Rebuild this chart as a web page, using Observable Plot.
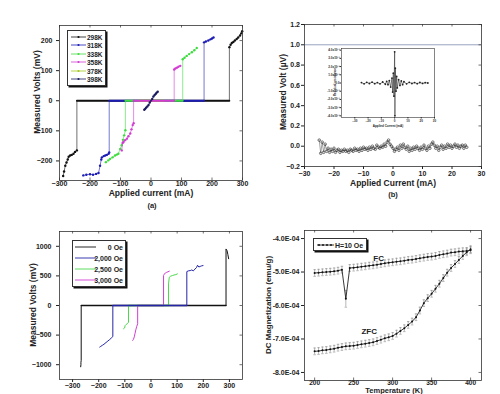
<!DOCTYPE html>
<html><head><meta charset="utf-8">
<script src="https://cdn.jsdelivr.net/npm/d3@7"></script>
<script src="https://cdn.jsdelivr.net/npm/@observablehq/plot@0.6"></script>
<style>
body{margin:0;background:#fff;}
#root{position:relative;width:500px;height:394px;overflow:hidden;font-family:"Liberation Sans",Arial,sans-serif;font-weight:bold;color:#222;}
.p{position:absolute;}
.lab{position:absolute;white-space:nowrap;transform:translate(-50%,-50%);font-weight:bold;color:#222;}
.rot{transform:translate(-50%,-50%) rotate(-90deg);}
.leg{position:absolute;background:#fff;border:0.8px solid #333;box-shadow:1.5px 1.5px 0 #111;}
.row{position:absolute;left:0;right:0;height:8px;}
.row svg{position:absolute;top:0;}
.row span{position:absolute;top:50%;transform:translateY(-50%);white-space:nowrap;}
</style></head><body><div id="root"></div><script>
// ---------- Panel (a): V-I curves at temperatures ----------
const tempsA = ["298K", "318K", "338K", "358K", "378K", "398K"];
const a298 = [[-288,-250],[-285,-235],[-281,-216],[-277,-205],[-273,-195],[-270,-186],[-265,-182],[-260,-180],[-254,-176],[-249,-170],[-243,-165],[-243,0],[257,0],[257,178],[261,186],[265,192],[270,195],[275,200],[281,205],[286,210],[292,217],[296,224],[299,231]];
const a318 = [[-222,-248],[-212,-246],[-200,-244],[-190,-246],[-180,-243],[-172,-240],[-167,-216],[-163,-195],[-161,-188],[-155,-184],[-150,-182],[-145,-180],[-139,-176],[-137,-172],[-137,0],[174,0],[174,194],[180,197],[188,200],[195,204],[200,207],[205,210]];
const a338 = [[-148,-204],[-140,-198],[-134,-193],[-126,-188],[-118,-182],[-112,-179],[-107,-176],[-101,-160],[-96,-148],[-92,-130],[-88,-115],[-84,-98],[-84,0],[104,0],[104,138],[110,143],[117,149],[125,155],[134,161],[142,168],[150,175]];
const a358 = [[-96,-165],[-93,-140],[-90,-137],[-85,-131],[-79,-126],[-74,-118],[-68,-109],[-64,-95],[-60,-81],[-57,-75],[-57,0],[76,0],[76,104],[80,107],[85,110],[90,113],[96,116]];
const a378 = [[-40,0],[40,0]];
const a398 = [[-22,-30],[-19,-27],[-16,-23],[-12,-19],[-8,-14],[-4,-6],[0,0],[4,6],[8,14],[12,19],[16,23],[19,27],[22,30]];
const xTicksA = [-300,-200,-100,0,100,200,300];
const yTicksA = [-200,-100,0,100,200];

// ---------- Panel (b): noise measurement ----------
const bCurrent = [-25,-24.5,-24,-23.5,-23,-22.5,-22,-21.5,-21,-20.5,-20,-19.5,-19,-18.5,-18,-17.5,-17,-16.5,-16,-15.5,-15,-14.5,-14,-13.5,-13,-12.5,-12,-11.5,-11,-10.5,-10,-9.5,-9,-8.5,-8,-7.5,-7,-6.5,-6,-5.5,-5,-4.5,-4,-3.5,-3,-2.5,-2,-1.5,-1,-0.5,0,0.5,1,1.5,2,2.5,3,3.5,4,4.5,5,5.5,6,6.5,7,7.5,8,8.5,9,9.5,10,10.5,11,11.5,12,12.5,13,13.5,14,14.5,15,15.5,16,16.5,17,17.5,18,18.5,19,19.5,20,20.5,21,21.5,22,22.5,23,23.5,24,24.5,25];
const bVolt = [0.06,-0.07,0.04,-0.06,0.02,-0.05,-0.02,-0.06,-0.03,-0.05,-0.02,-0.06,-0.04,-0.03,-0.06,-0.04,-0.05,-0.03,-0.05,-0.04,-0.06,-0.03,-0.04,-0.05,-0.02,-0.04,-0.03,-0.05,-0.02,-0.04,-0.01,-0.03,-0.02,-0.04,-0.01,-0.03,0.00,-0.02,-0.03,0.01,-0.01,-0.02,0.00,-0.01,0.02,0.00,0.04,0.06,0.02,0.00,-0.02,-0.05,-0.03,-0.01,-0.04,0.01,-0.02,0.02,-0.01,-0.03,0.00,-0.05,-0.02,-0.04,-0.01,-0.03,0.00,-0.02,-0.04,-0.01,-0.03,0.01,-0.02,-0.04,0.00,-0.02,0.02,0.04,0.01,-0.02,0.00,-0.04,-0.01,0.01,-0.03,0.00,-0.02,0.02,-0.01,0.01,-0.02,0.00,0.02,-0.01,0.01,-0.02,0.00,0.01,-0.02,0.01,-0.01];
const bRefLine = [1.0];
const xTicksB = [-30,-20,-10,0,10,20,30];
const yTicksB = [-0.2,0,0.2,0.4,0.6,0.8,1.0,1.2];
// inset (units of 10^-3)
const insetCurrent = [-25,-23,-21,-19,-17,-15,-13,-11,-9,-7,-6,-5,-4,-3,-2,-1.5,-1,-0.5,0,0.2,0.5,1,1.5,2,3,4,5,6,7,9,11,13,15,17,19,21,23,25];
const insetValue = [0.05,-0.1,0.08,-0.06,0.1,-0.08,0.05,-0.1,0.12,-0.15,0.2,-0.2,0.3,-0.5,0.6,-1.1,1.2,-1.6,3.8,-4.0,1.8,-1.0,0.8,-0.6,0.4,-0.3,0.25,-0.2,0.15,-0.1,0.08,-0.06,0.05,-0.08,0.06,-0.05,0.04,0.0];
const insetXTicks = [-30,-20,-10,0,10,20,30];
const insetYTicks = [-4,-3,-2,-1,0,1,2,3,4];

// ---------- Panel (c): V-I curves in field ----------
const fieldsC = ["0 Oe", "2,000 Oe", "2,500 Oe", "3,000 Oe"];
const c0 = [[-269,-1035],[-268,-1000],[-268,-960],[-267,-930],[-267,0],[287,0],[287,955],[289,940],[291,925],[294,860],[297,790]];
const c2000 = [[-196,-702],[-192,-690],[-186,-672],[-180,-655],[-172,-625],[-165,-600],[-158,-575],[-152,-550],[-146,-525],[-146,0],[137,0],[137,573],[143,585],[150,590],[156,600],[162,585],[168,615],[174,640],[178,680],[183,650],[188,660],[194,670],[199,675]];
const c2500 = [[-105,-393],[-101,-380],[-99,-340],[-95,-320],[-90,-305],[-86,-281],[-86,0],[67,0],[67,365],[70,477],[75,495],[82,506],[88,515],[95,522],[101,534]];
const c3000 = [[-70,-590],[-67,-570],[-64,-530],[-61,-470],[-58,-410],[-55,-360],[-51,-309],[-51,0],[48,0],[48,506],[51,530],[55,550],[60,560],[65,570],[70,579]];
const xTicksC = [-300,-200,-100,0,100,200,300];
const yTicksC = [-1000,-500,0,500,1000];

// ---------- Panel (d): DC magnetization ----------
const tempD = [200,205,210,215,220,225,230,235,240,245,250,255,260,265,270,275,280,285,290,295,300,305,310,315,320,325,330,335,340,345,350,355,360,365,370,375,380,385,390,395,400];
const fcD = [-5.03,-5.02,-5.01,-5.00,-4.99,-4.98,-4.96,-4.93,-5.80,-4.88,-4.87,-4.86,-4.84,-4.83,-4.81,-4.80,-4.78,-4.76,-4.74,-4.72,-4.71,-4.69,-4.68,-4.66,-4.64,-4.63,-4.61,-4.59,-4.57,-4.55,-4.54,-4.52,-4.49,-4.47,-4.45,-4.42,-4.41,-4.39,-4.38,-4.37,-4.35];
const zfcD = [-7.37,-7.36,-7.34,-7.33,-7.31,-7.29,-7.26,-7.24,-7.22,-7.21,-7.20,-7.18,-7.16,-7.14,-7.12,-7.10,-7.06,-7.02,-6.98,-6.95,-6.91,-6.84,-6.76,-6.68,-6.58,-6.48,-6.35,-6.15,-5.93,-5.78,-5.65,-5.50,-5.35,-5.18,-5.02,-4.88,-4.76,-4.64,-4.52,-4.41,-4.32];
const fcErr = [0.1,0.1,0.1,0.1,0.1,0.1,0.1,0.1,0.25,0.1,0.1,0.1,0.1,0.1,0.1,0.1,0.1,0.1,0.1,0.1,0.1,0.1,0.1,0.1,0.1,0.1,0.1,0.1,0.1,0.1,0.1,0.1,0.1,0.1,0.1,0.1,0.1,0.1,0.1,0.1,0.1];
const zfcErr = 0.1;
const dScale = 1e-4;
const xTicksD = [200,250,300,350,400];
const yTicksD = [-8e-4,-7e-4,-6e-4,-5e-4,-4e-4];

// ================= drawing =================
const root = document.getElementById("root");
const FONT = '"Liberation Sans", Arial, sans-serif';
const baseStyle = {fontFamily: FONT, fontSize: "7px", fontWeight: "bold", background: "transparent", color: "#222", overflow: "visible"};
function place(node, left, top) {
  const d = document.createElement("div");
  d.className = "p"; d.style.left = left + "px"; d.style.top = top + "px";
  d.appendChild(node); root.appendChild(d);
}
function label(text, x, y, size, rot) {
  const d = document.createElement("div");
  d.className = "lab" + (rot ? " rot" : "");
  d.style.left = x + "px"; d.style.top = y + "px"; d.style.fontSize = size + "px";
  d.textContent = text; root.appendChild(d);
}
function toRows(names, arrays) {
  const rows = [];
  names.forEach((n, i) => arrays[i].forEach(([x, y]) => rows.push({s: n, x, y})));
  return rows;
}
// o: {fw, fh, xs, xp, ys, yp, yfmt, xfs}
function axes(xt, yt, o) {
  const m = [
    Plot.axisX({ticks: xt, tickSize: o.xs, tickPadding: o.xp, label: null, tickFormat: o.xfmt, fontSize: o.xfs}),
    Plot.axisY({ticks: yt, tickSize: o.ys, tickPadding: o.yp, label: null, tickFormat: o.yfmt}),
    // inward ticks on top and right edges
    Plot.ruleX(xt, {x: d => d, insetBottom: o.fh - 2.5, stroke: "#333", strokeWidth: 0.7}),
    Plot.ruleY(yt, {y: d => d, insetLeft: o.fw - 2.5, stroke: "#333", strokeWidth: 0.7}),
    Plot.frame({stroke: "#333", strokeWidth: 0.8})
  ];
  if (o.xs === 0) m.push(Plot.ruleX(xt, {x: d => d, insetTop: o.fh - 2.5, stroke: "#333", strokeWidth: 0.7}));
  return m;
}
function seriesMarks(rows, order, colors) {
  const m = [];
  for (const n of order) {
    const r = rows.filter(d => d.s === n);
    m.push(Plot.line(r, {x: "x", y: "y", stroke: colors[n], strokeWidth: 0.6}));
    m.push(Plot.line(r.filter(d => d.y === 0), {x: "x", y: "y", stroke: colors[n], strokeWidth: 1.8}));
    m.push(Plot.dot(r.filter(d => d.y !== 0), {x: "x", y: "y", r: 1.2, fill: colors[n], stroke: "none"}));
  }
  return m;
}

// ---- (a)
const colA = {"298K": "#111111", "318K": "#1c1cb4", "338K": "#3fdc3f", "358K": "#d23cd2", "378K": "#a4c81e", "398K": "#1a1a60"};
const rowsA = toRows(tempsA, [a298, a318, a338, a358, a378, a398]);
place(Plot.plot({
  width: 250, height: 200, marginLeft: 59, marginRight: 8, marginTop: 25, marginBottom: 20,
  style: baseStyle,
  x: {domain: [-300, 300]}, y: {domain: [-265, 250]},
  marks: [
    ...seriesMarks(rowsA, ["298K", "318K", "338K", "378K", "358K", "398K"], colA),
    ...axes(xTicksA, yTicksA, {fw: 183, fh: 155, xs: 0, xp: 1, ys: 3, yp: 4})
  ]
}), 0, 0);

// ---- (b)
const rowsB = bCurrent.map((x, i) => ({x, y: bVolt[i]}));
place(Plot.plot({
  width: 250, height: 200, marginLeft: 54, marginRight: 19, marginTop: 24, marginBottom: 34,
  style: baseStyle,
  x: {domain: [-30, 30]}, y: {domain: [-0.2, 1.2]},
  marks: [
    Plot.ruleY(bRefLine, {stroke: "#7d8bb0", strokeWidth: 0.8}),
    Plot.line(rowsB, {x: "x", y: "y", stroke: "#444", strokeWidth: 0.5}),
    Plot.dot(rowsB, {x: "x", y: "y", r: 1.3, stroke: "#222", strokeWidth: 0.6, fill: "none"}),
    ...axes(xTicksB, yTicksB, {fw: 177, fh: 142, xs: 3, xp: 1.5, ys: 3, yp: 1.5, yfmt: d3.format(".1f")})
  ]
}), 250, 0);

const rowsI = insetCurrent.map((x, i) => ({x, y: insetValue[i]}));
place(Plot.plot({
  width: 115, height: 85, marginLeft: 16, marginRight: 6, marginTop: 4, marginBottom: 12,
  style: {...baseStyle, fontSize: "3px"},
  x: {domain: [-40, 30]}, y: {domain: [-4.2, 4.2]},
  marks: [
    Plot.line(rowsI, {x: "x", y: "y", stroke: "#333", strokeWidth: 0.6}),
    Plot.dot(rowsI, {x: "x", y: "y", r: 0.9, fill: "#222"}),
    Plot.axisX({ticks: insetXTicks, tickSize: 1.5, tickPadding: 0.5, label: null}),
    Plot.axisY({ticks: insetYTicks, tickSize: 1.5, tickPadding: 0.5, label: null,
      tickFormat: d => d === 0 ? "0.0" : (d.toFixed(1) + "x10\u207B\u00B3")}),
    Plot.frame({stroke: "#333", strokeWidth: 0.6})
  ]
}), 325, 44);

// ---- (c)
const colC = {"0 Oe": "#111111", "2,000 Oe": "#2525a8", "2,500 Oe": "#4ad84a", "3,000 Oe": "#d23cd2"};
const rowsC = toRows(fieldsC, [c0, c2000, c2500, c3000]);
const cMarks = [];
for (const n of ["0 Oe", "3,000 Oe", "2,500 Oe", "2,000 Oe"]) {
  const r = rowsC.filter(d => d.s === n);
  cMarks.push(Plot.line(r, {x: "x", y: "y", stroke: colC[n], strokeWidth: 1}));
  cMarks.push(Plot.line(r.filter(d => d.y === 0), {x: "x", y: "y", stroke: colC[n], strokeWidth: 1.4}));
}
place(Plot.plot({
  width: 250, height: 194, marginLeft: 59, marginRight: 8, marginTop: 31, marginBottom: 15,
  style: baseStyle,
  x: {domain: [-350, 350]}, y: {domain: [-1250, 1250]},
  marks: [...cMarks, ...axes(xTicksC, yTicksC, {fw: 183, fh: 148, xs: 3, xp: 1, ys: 3, yp: 5, yfmt: d3.format("d")})]
}), 0, 200);

// ---- (d)
const rowsD = [];
tempD.forEach((t, i) => {
  rowsD.push({s: "FC", t, m: fcD[i] * dScale, e: fcErr[i] * dScale});
  rowsD.push({s: "ZFC", t, m: zfcD[i] * dScale, e: zfcErr * dScale});
});
const expFmt = v => { const [m, e] = v.toExponential(1).split("e"); const n = +e; return m + "E" + (n < 0 ? "-" : "+") + String(Math.abs(n)).padStart(2, "0"); };
place(Plot.plot({
  width: 250, height: 194, marginLeft: 54, marginRight: 19, marginTop: 30, marginBottom: 14,
  style: baseStyle,
  x: {domain: [187, 414]}, y: {domain: [-8.24e-4, -3.76e-4]},
  marks: [
    Plot.ruleX(rowsD, {x: "t", y1: d => d.m - d.e, y2: d => d.m + d.e, stroke: "#888", strokeWidth: 0.6}),
    Plot.link(rowsD, {x1: d => d.t - 1.6, x2: d => d.t + 1.6, y1: d => d.m + d.e, y2: d => d.m + d.e, stroke: "#888", strokeWidth: 0.6}),
    Plot.link(rowsD, {x1: d => d.t - 1.6, x2: d => d.t + 1.6, y1: d => d.m - d.e, y2: d => d.m - d.e, stroke: "#888", strokeWidth: 0.6}),
    Plot.line(rowsD, {x: "t", y: "m", z: "s", stroke: "#222", strokeWidth: 0.9}),
    Plot.dot(rowsD, {x: "t", y: "m", r: 1, fill: "#111"}),
    Plot.text(["FC"], {x: 282, y: -4.58e-4, text: d => d, fontSize: 8, fontWeight: "bold"}),
    Plot.text(["ZFC"], {x: 270, y: -6.76e-4, text: d => d, fontSize: 8, fontWeight: "bold"}),
    ...axes(xTicksD, yTicksD, {fw: 177, fh: 150, xs: 0, xp: 0, xfs: 6.5, ys: 3, yp: 2, yfmt: expFmt})
  ]
}), 250, 200);

// ---- axis titles
label("Measured Volts (mV)", 37, 92, 8.5, true);
label("Applied current (mA)", 151, 193, 8.5);
label("(a)", 152, 205, 7.5);
label("Measured Volt (\u00B5V)", 283, 92, 8.5, true);
label("Applied Current (mA)", 393, 183, 8.5);
label("(b)", 393, 193.5, 7.5);
label("Measured Volts (mV)", 33, 305, 8.5, true);
label("DC Magnetization (emu/g)", 268, 305, 8, true);
label("Temperature (K)", 394, 390.3, 7.5);
label("Residual resistance", 335, 82, 3, true);
label("Applied Current (mA)", 388, 125.5, 3);

// ---- legends
function legend(left, top, w, h, entries, opt) {
  const box = document.createElement("div");
  box.className = "leg";
  Object.assign(box.style, {left: left + "px", top: top + "px", width: w + "px", height: h + "px", fontSize: opt.font + "px"});
  entries.forEach(([text, color], i) => {
    const row = document.createElement("div");
    row.className = "row";
    row.style.top = (opt.first + i * opt.step - 4) + "px";
    const ns = "http://www.w3.org/2000/svg";
    const s = document.createElementNS(ns, "svg");
    s.setAttribute("width", opt.lineW + 2); s.setAttribute("height", 8);
    s.style.left = opt.lineX + "px";
    const ln = document.createElementNS(ns, "line");
    ln.setAttribute("x1", 1); ln.setAttribute("x2", opt.lineW + 1); ln.setAttribute("y1", 4); ln.setAttribute("y2", 4);
    ln.setAttribute("stroke", color); ln.setAttribute("stroke-width", opt.lw);
    s.appendChild(ln);
    if (opt.marker) {
      for (const mx of opt.marker) {
        const c = document.createElementNS(ns, "circle");
        c.setAttribute("cx", mx); c.setAttribute("cy", 4); c.setAttribute("r", 1.1); c.setAttribute("fill", color);
        s.appendChild(c);
      }
    }
    row.appendChild(s);
    const sp = document.createElement("span");
    sp.textContent = text;
    if (opt.right != null) sp.style.right = opt.right + "px"; else sp.style.left = opt.textX + "px";
    row.appendChild(sp);
    box.appendChild(row);
  });
  root.appendChild(box);
}
legend(67, 30, 37, 54, tempsA.map(t => [t, colA[t]]), {font: 6.5, first: 5.5, step: 8.5, lineX: 2, lineW: 15, lw: 0.8, marker: [8.5], textX: 19});
legend(72, 240, 52, 45, fieldsC.map(f => [f, colC[f]]), {font: 7, first: 6, step: 11, lineX: 1, lineW: 21, lw: 0.9, right: 2});
legend(313, 238, 52, 11, [["H=10 Oe", "#222"]], {font: 7, first: 5.5, step: 0, lineX: 2, lineW: 17, lw: 0.9, marker: [3, 7, 11, 15], textX: 21});
</script></body></html>
